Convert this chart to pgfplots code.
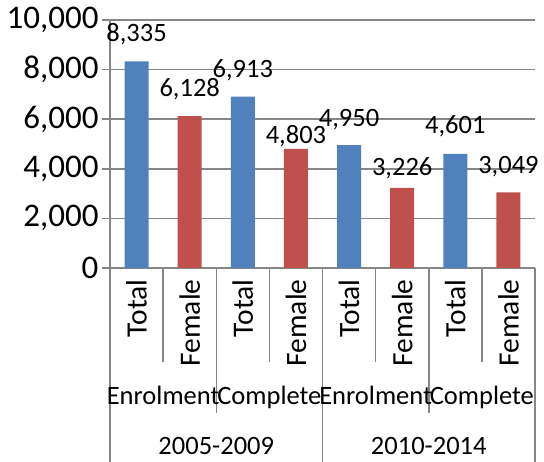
\documentclass[border=0pt]{standalone}
\usepackage{fontspec}
\setmainfont{Carlito}
\usepackage{pgfplots}
\usepackage{pgfplotstable}
\pgfplotsset{compat=1.18}
\definecolor{xlblue}{HTML}{4F81BD}
\definecolor{xlred}{HTML}{C0504D}
\definecolor{xlgrid}{HTML}{868686}

% x = category slot, y = value, off = label baseline above bar top (pt)
\pgfplotstableread{
x y off
0 8335 20
2 6913 19
4 4950 19
6 4601 20
}\totaltab
\pgfplotstableread{
x y off
1 6128 20
3 4803 5
5 3226 12
7 3049 19
}\femaletab

\newcommand{\bigfont}{\fontsize{26.5}{31}\selectfont}

\begin{document}
\begin{tikzpicture}[font=\bigfont]
\useasboundingbox (0,0) rectangle (544pt,462pt);
\begin{axis}[
    at={(110pt,194pt)}, anchor=south west,
    scale only axis, width=425pt, height=248pt,
    xmin=-0.5, xmax=7.5, ymin=0, ymax=10000,
    ybar, bar width=24pt,
    axis x line*=bottom, axis y line*=left,
    axis line style={xlgrid, line width=1.5pt, -},
    ymajorgrids, grid style={xlgrid, line width=1.5pt},
    ytick={0,2000,...,10000},
    scaled y ticks=false,
    ytick align=outside, major tick length=8pt,
    tick style={xlgrid, line width=1.5pt},
    xtick={0,...,7},
    xticklabels={Total,Female,Total,Female,Total,Female,Total,Female},
    x tick style={draw=none},
    xticklabel style={rotate=90, anchor=east, font=\fontsize{29.5}{34}\selectfont},
    yticklabel={\fontsize{33}{38}\selectfont\pgfmathprintnumber{\tick}},
    /pgf/number format/assume math mode=true,
    /pgf/number format/1000 sep={,},
    clip=false,
]
\addplot[fill=xlblue, draw=none, bar shift=0pt,
    nodes near coords,
    visualization depends on={\thisrow{off} \as \laboff},
    every node near coord/.append style={anchor=base, yshift=\laboff pt, text=black, font=\bigfont}]
    table[x=x, y=y] {\totaltab};
\addplot[fill=xlred, draw=none, bar shift=0pt,
    nodes near coords,
    visualization depends on={\thisrow{off} \as \laboff},
    every node near coord/.append style={anchor=base, yshift=\laboff pt, text=black, font=\bigfont}]
    table[x=x, y=y] {\femaletab};

\draw[xlgrid, line width=1.5pt] (axis cs:-0.5,0) -- ([yshift=-194pt]axis cs:-0.5,0);
\draw[xlgrid, line width=1.5pt] (axis cs:3.5,0) -- ([yshift=-194pt]axis cs:3.5,0);
\draw[xlgrid, line width=1.5pt] (axis cs:7.5,0) -- ([yshift=-194pt]axis cs:7.5,0);
\draw[xlgrid, line width=1.5pt] (axis cs:1.5,0) -- ([yshift=-145pt]axis cs:1.5,0);
\draw[xlgrid, line width=1.5pt] (axis cs:5.5,0) -- ([yshift=-145pt]axis cs:5.5,0);
\draw[xlgrid, line width=1.5pt] (axis cs:0.5,0) -- ([yshift=-94pt]axis cs:0.5,0);
\draw[xlgrid, line width=1.5pt] (axis cs:2.5,0) -- ([yshift=-94pt]axis cs:2.5,0);
\draw[xlgrid, line width=1.5pt] (axis cs:4.5,0) -- ([yshift=-94pt]axis cs:4.5,0);
\draw[xlgrid, line width=1.5pt] (axis cs:6.5,0) -- ([yshift=-94pt]axis cs:6.5,0);

\node[anchor=base, yshift=-137pt] at (axis cs:0.5,0) {Enrolment};
\node[anchor=base, yshift=-137pt] at (axis cs:2.5,0) {Complete};
\node[anchor=base, yshift=-137pt] at (axis cs:4.5,0) {Enrolment};
\node[anchor=base, yshift=-137pt] at (axis cs:6.5,0) {Complete};
\node[anchor=base, yshift=-187pt] at (axis cs:1.5,0) {2005-2009};
\node[anchor=base, yshift=-187pt] at (axis cs:5.5,0) {2010-2014};
\end{axis}
\end{tikzpicture}
\end{document}
